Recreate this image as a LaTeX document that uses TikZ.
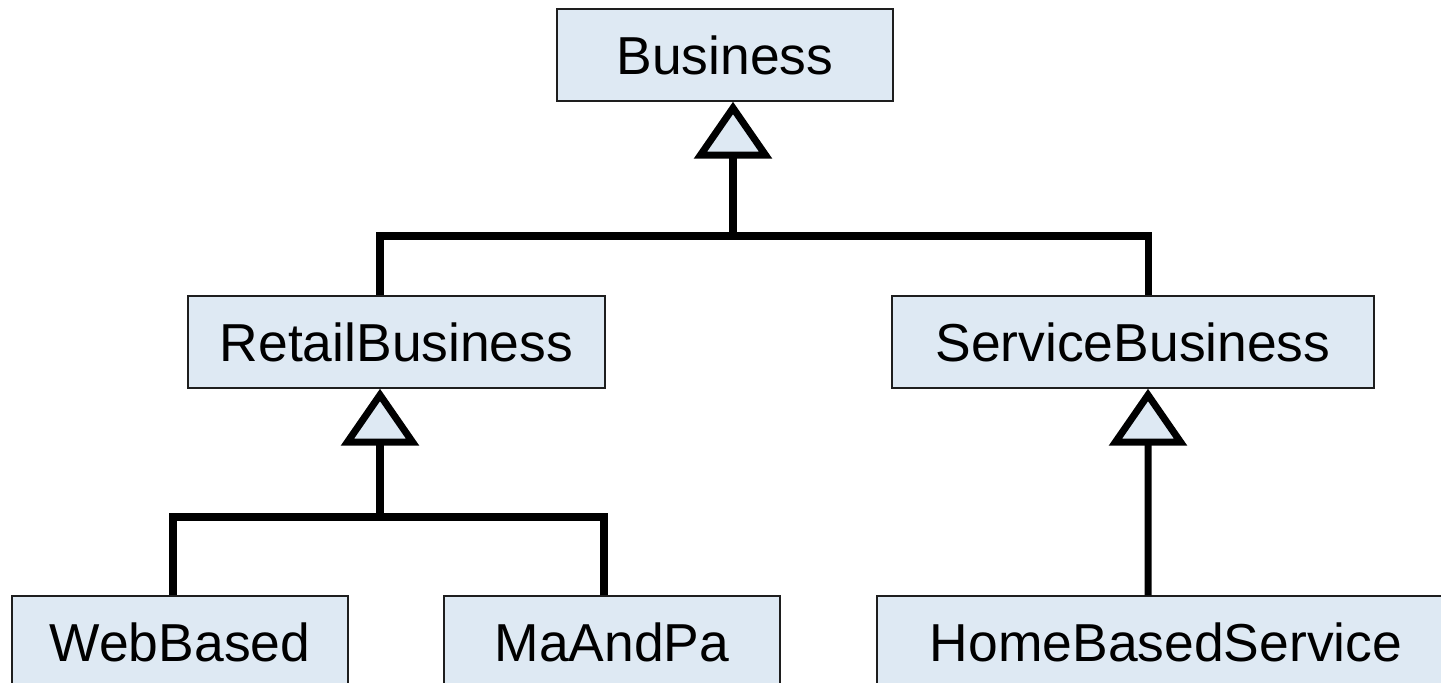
\documentclass[tikz,border=0pt]{standalone}
\usepackage{xcolor}
\usepackage{fontspec}
\setmainfont{Liberation Sans}
\usepackage{tikz}
\usetikzlibrary{arrows.meta,positioning}

\definecolor{boxfill}{RGB}{222,233,243}
\definecolor{boxline}{RGB}{30,30,30}

\begin{document}
\begin{tikzpicture}[
    font=\fontsize{30.4}{36}\selectfont,
    cls/.style={draw=boxline, fill=boxfill, line width=0.85pt, minimum height=1.84cm, inner sep=0pt},
    link/.style={line width=4pt},
    inh/.style={link, -{Triangle[length=1.14cm 0, width=1.54cm 0, fill=boxfill, line width=4pt]}}
]
\useasboundingbox (0,0) rectangle (28.82,13.66);
\clip (0,0) rectangle (28.82,13.66);

\node[cls, minimum width=6.72cm] (business) at (14.5,12.56) {Business};
\node[cls, minimum width=8.34cm] (retail) at (7.93,6.82) {RetailBusiness};
\node[cls, minimum width=9.64cm] (service) at (22.66,6.82) {ServiceBusiness};
\node[cls, minimum width=6.72cm] (webbased) at (3.6,0.82) {WebBased};
\node[cls, minimum width=6.72cm] (maandpa) at (12.24,0.82) {MaAndPa};
\node[cls, minimum width=11.56cm] (homebased) at (23.32,0.82) {HomeBasedService};

% joints of the generalisation bars
\coordinate (topbar) at ([xshift=0.16cm]business.south |- 0,8.94);
\coordinate (retailbar) at ([xshift=-0.33cm]retail.south |- 0,3.32);

\draw[link] ([xshift=-0.33cm]retail.north) |- (topbar) -| ([xshift=0.3cm]service.north);
\draw[inh] (topbar) -- ([xshift=0.16cm]business.south);

\draw[link] ([xshift=-0.14cm]webbased.north) |- (retailbar) -| ([xshift=-0.16cm]maandpa.north);
\draw[inh] (retailbar) -- ([xshift=-0.33cm]retail.south);

\draw[inh] ([xshift=-0.36cm]homebased.north) -- ([xshift=0.3cm]service.south);
\end{tikzpicture}
\end{document}
